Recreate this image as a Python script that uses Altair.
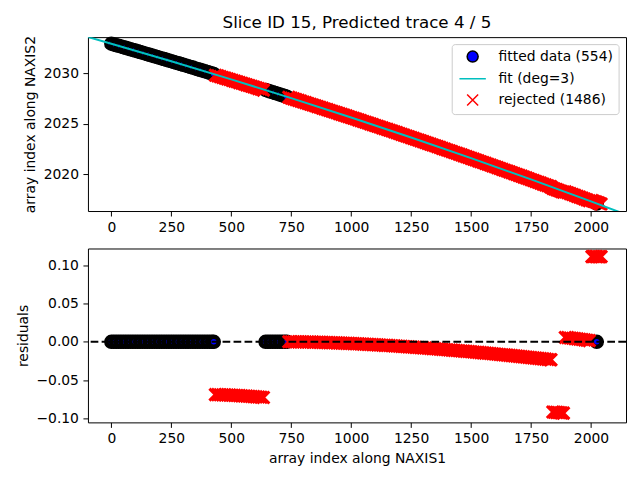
import altair as alt
import pandas as pd

# ---------------- data ----------------
LBL_FIT = "fitted data (554)"
LBL_LINE = "fit (deg=3)"
LBL_REJ = "rejected (1486)"
TITLE = "Slice ID 15, Predicted trace 4 / 5"

# fitted segment A (two interleaved samplings)
A2_x = [10, 30, 50, 70, 90, 110, 130, 150, 170, 190,
        210, 230, 250, 270, 290, 310, 330, 350, 370, 390, 410]
A2_y = [2032.83, 2032.70, 2032.56, 2032.42, 2032.29, 2032.15, 2032.01, 2031.87, 2031.73, 2031.59,
        2031.45, 2031.31, 2031.17, 2031.03, 2030.89, 2030.75, 2030.61, 2030.46, 2030.32, 2030.18, 2030.03]
A2_r = [0.0, 0.0, 0.0, 0.0, 0.0, 0.0, 0.0, 0.0, 0.0, 0.0,
        0.0, 0.0, 0.0, 0.0, 0.0, 0.0, 0.0, 0.0, 0.0, 0.0, 0.0]
A_x = [0, 20, 40, 60, 80, 100, 120, 140, 160, 180,
       200, 220, 240, 260, 280, 300, 320, 340, 360, 380,
       400, 420, 427]
A_y = [2032.90, 2032.76, 2032.63, 2032.49, 2032.35, 2032.22, 2032.08, 2031.94, 2031.80, 2031.66,
       2031.52, 2031.38, 2031.24, 2031.10, 2030.96, 2030.82, 2030.68, 2030.54, 2030.39, 2030.25,
       2030.11, 2029.96, 2029.91]
A_r = [0.0, 0.0, 0.0, 0.0, 0.0, 0.0, 0.0, 0.0, 0.0, 0.0,
       0.0, 0.0, 0.0, 0.0, 0.0, 0.0, 0.0, 0.0, 0.0, 0.0,
       0.0, 0.0, 0.0]

# rejected segment B (two interleaved samplings)
B_x = [434, 454, 474, 494, 514, 534, 554, 574, 594, 614, 634]
B_y = [2029.79, 2029.65, 2029.50, 2029.36, 2029.21, 2029.06, 2028.92, 2028.77, 2028.62, 2028.47, 2028.32]
B_r = [-0.0688, -0.0690, -0.0692, -0.0695, -0.0698, -0.0702, -0.0706, -0.0710, -0.0714, -0.0720, -0.0725]
B2_x = [444, 464, 484, 504, 524, 544, 564, 584, 604, 624]
B2_y = [2029.72, 2029.57, 2029.43, 2029.28, 2029.14, 2028.99, 2028.84, 2028.70, 2028.55, 2028.40]
B2_r = [-0.0689, -0.0691, -0.0693, -0.0696, -0.0700, -0.0704, -0.0708, -0.0712, -0.0717, -0.0722]

# fitted segment C (two interleaved samplings)
C2_x = [653, 673, 693, 713]
C2_y = [2028.26, 2028.11, 2027.96, 2027.81]
C2_r = [0.0, 0.0, 0.0, 0.0]
C_x = [643, 663, 683, 703, 723, 732]
C_y = [2028.33, 2028.18, 2028.03, 2027.88, 2027.73, 2027.67]
C_r = [0.0, 0.0, 0.0, 0.0, 0.0, 0.0]

# rejected segment D (two interleaved samplings)
D_x = [740, 760, 780, 800, 820, 840, 860, 880, 900, 920,
       940, 960, 980, 1000, 1020, 1040, 1060, 1080, 1100, 1120,
       1140, 1160, 1180, 1200, 1220, 1240, 1260, 1280, 1300, 1320,
       1340, 1360, 1380, 1400, 1420, 1440, 1460, 1480, 1500, 1520,
       1540, 1560, 1580, 1600, 1620, 1640, 1660, 1680, 1700, 1720,
       1740, 1760, 1780, 1800, 1820, 1833]
D_y = [2027.61, 2027.45, 2027.30, 2027.15, 2027.00, 2026.85, 2026.69, 2026.54, 2026.39, 2026.23,
       2026.08, 2025.92, 2025.77, 2025.61, 2025.46, 2025.30, 2025.14, 2024.99, 2024.83, 2024.67,
       2024.51, 2024.35, 2024.19, 2024.03, 2023.87, 2023.71, 2023.55, 2023.39, 2023.23, 2023.06,
       2022.90, 2022.74, 2022.57, 2022.41, 2022.25, 2022.08, 2021.92, 2021.75, 2021.58, 2021.42,
       2021.25, 2021.08, 2020.92, 2020.75, 2020.58, 2020.41, 2020.24, 2020.07, 2019.90, 2019.73,
       2019.56, 2019.39, 2019.22, 2019.04, 2018.87, 2018.76]
D_r = [0.0000, 0.0000, -0.0001, -0.0002, -0.0003, -0.0004, -0.0006, -0.0008, -0.0010, -0.0012,
       -0.0014, -0.0017, -0.0020, -0.0022, -0.0025, -0.0028, -0.0032, -0.0035, -0.0038, -0.0042,
       -0.0046, -0.0049, -0.0053, -0.0057, -0.0062, -0.0066, -0.0070, -0.0075, -0.0079, -0.0084,
       -0.0089, -0.0093, -0.0098, -0.0103, -0.0109, -0.0114, -0.0119, -0.0125, -0.0130, -0.0136,
       -0.0141, -0.0147, -0.0153, -0.0159, -0.0165, -0.0171, -0.0177, -0.0183, -0.0190, -0.0196,
       -0.0203, -0.0209, -0.0216, -0.0223, -0.0230, -0.0234]
D2_x = [750, 770, 790, 810, 830, 850, 870, 890, 910, 930,
        950, 970, 990, 1010, 1030, 1050, 1070, 1090, 1110, 1130,
        1150, 1170, 1190, 1210, 1230, 1250, 1270, 1290, 1310, 1330,
        1350, 1370, 1390, 1410, 1430, 1450, 1470, 1490, 1510, 1530,
        1550, 1570, 1590, 1610, 1630, 1650, 1670, 1690, 1710, 1730,
        1750, 1770, 1790, 1810, 1830]
D2_y = [2027.53, 2027.38, 2027.23, 2027.08, 2026.92, 2026.77, 2026.62, 2026.46, 2026.31, 2026.16,
        2026.00, 2025.85, 2025.69, 2025.54, 2025.38, 2025.22, 2025.07, 2024.91, 2024.75, 2024.59,
        2024.44, 2024.28, 2024.12, 2023.95, 2023.79, 2023.63, 2023.47, 2023.31, 2023.15, 2022.98,
        2022.82, 2022.66, 2022.49, 2022.33, 2022.16, 2022.00, 2021.83, 2021.67, 2021.50, 2021.33,
        2021.17, 2021.00, 2020.83, 2020.66, 2020.49, 2020.33, 2020.16, 2019.99, 2019.82, 2019.65,
        2019.47, 2019.30, 2019.13, 2018.96, 2018.79]
D2_r = [0.0000, -0.0001, -0.0001, -0.0002, -0.0003, -0.0005, -0.0007, -0.0009, -0.0011, -0.0013,
        -0.0015, -0.0018, -0.0021, -0.0023, -0.0026, -0.0030, -0.0033, -0.0036, -0.0040, -0.0044,
        -0.0047, -0.0051, -0.0055, -0.0060, -0.0064, -0.0068, -0.0072, -0.0077, -0.0081, -0.0086,
        -0.0091, -0.0095, -0.0100, -0.0106, -0.0111, -0.0116, -0.0122, -0.0127, -0.0133, -0.0138,
        -0.0144, -0.0150, -0.0156, -0.0162, -0.0168, -0.0174, -0.0180, -0.0186, -0.0193, -0.0199,
        -0.0206, -0.0212, -0.0219, -0.0226, -0.0233]

# rejected segment E
E_x = [1841, 1848, 1856, 1863, 1871, 1878, 1885]
E_y = [2018.62, 2018.56, 2018.49, 2018.43, 2018.36, 2018.30, 2018.24]
E_r = [-0.0915, -0.0918, -0.0920, -0.0922, -0.0925, -0.0928, -0.0930]

# rejected segment F
F_x = [1893, 1903, 1913, 1923, 1933, 1943, 1953, 1963, 1973, 1983, 1993]
F_y = [2018.27, 2018.18, 2018.10, 2018.01, 2017.92, 2017.83, 2017.75, 2017.66, 2017.57, 2017.48, 2017.39]
F_r = [0.0057, 0.0054, 0.0050, 0.0046, 0.0042, 0.0038, 0.0034, 0.0030, 0.0025, 0.0020, 0.0015]

# rejected segment G
G_x = [2004, 2010, 2017, 2023, 2030, 2036, 2042]
G_y = [2017.41, 2017.35, 2017.29, 2017.24, 2017.18, 2017.12, 2017.07]
G_r = [0.1110, 0.1111, 0.1112, 0.1110, 0.1108, 0.1109, 0.1110]

# fitted point H
H_x = [2024]
H_y = [2017.12]
H_r = [0.0]

# fit curve
FIT_X = [-100, 0, 250, 500, 750, 1000, 1250, 1500, 1750, 2000, 2150]
FIT_Y = [2033.58, 2032.90, 2031.17, 2029.38, 2027.53, 2025.62, 2023.64, 2021.60, 2019.50, 2017.33, 2016.00]

X_TICKS = [0, 250, 500, 750, 1000, 1250, 1500, 1750, 2000]
Y_TICKS_TOP = [2020, 2025, 2030]
Y_TICKS_BOT = [-0.10, -0.05, 0.00, 0.05, 0.10]
ZERO = [0.0]

# ---------------- build tables ----------------
def seg(xs, ys, rs, kind):
    return pd.DataFrame({"x": xs, "y": ys, "r": rs, "kind": kind})

fitted = pd.concat([seg(A2_x, A2_y, A2_r, LBL_FIT), seg(A_x, A_y, A_r, LBL_FIT),
                    seg(C2_x, C2_y, C2_r, LBL_FIT), seg(C_x, C_y, C_r, LBL_FIT),
                    seg(H_x, H_y, H_r, LBL_FIT)], ignore_index=True)
rejected = pd.concat([seg(B_x, B_y, B_r, LBL_REJ), seg(B2_x, B2_y, B2_r, LBL_REJ),
                      seg(D_x, D_y, D_r, LBL_REJ), seg(D2_x, D2_y, D2_r, LBL_REJ),
                      seg(E_x, E_y, E_r, LBL_REJ), seg(F_x, F_y, F_r, LBL_REJ),
                      seg(G_x, G_y, G_r, LBL_REJ)], ignore_index=True)
fitline = pd.DataFrame({"x": FIT_X, "y": FIT_Y, "kind": LBL_LINE})
zero_df = pd.DataFrame({"r": ZERO})

XPATH = "M-1,-1L1,1M-1,1L1,-1"
DOM = [LBL_FIT, LBL_LINE, LBL_REJ]
fill_s = alt.Scale(domain=DOM, range=["#0000ff", "transparent", "transparent"])
stroke_s = alt.Scale(domain=DOM, range=["#000000", "#00bfbf", "#ff0000"])
shape_s = alt.Scale(domain=DOM, range=["circle", "M-2.4,0L2.4,0", XPATH])

leg = alt.Legend(title=None, orient="top-right", offset=7, padding=5.5,
                 symbolOffset=8.5, labelOffset=19, rowPadding=5.2,
                 fillColor="rgba(255,255,255,0.8)", strokeColor="#cccccc",
                 cornerRadius=3, symbolSize=121, symbolStrokeWidth=1.5,
                 labelFontSize=13.9, labelFont="DejaVu Sans", labelColor="black")

xs = alt.Scale(domain=[-97.5, 2146], nice=False, zero=False)
ys_top = alt.Scale(domain=[2016.38, 2033.55], nice=False, zero=False)
ys_bot = alt.Scale(domain=[-0.105, 0.1216], nice=False, zero=False)

W, H = 538.4, 174
X_SIZE, X_SW = 144, 3.0
C_SIZE, C_SW = 100, 4.5

top_x = alt.X("x:Q", scale=xs, axis=alt.Axis(values=X_TICKS, title=None, format="d"))
top_y = alt.Y("y:Q", scale=ys_top,
              axis=alt.Axis(values=Y_TICKS_TOP, title="array index along NAXIS2", format="d"))

enc_leg = dict(
    fill=alt.Fill("kind:N", scale=fill_s, legend=leg),
    stroke=alt.Stroke("kind:N", scale=stroke_s, legend=leg),
)

top_fit_pts = alt.Chart(fitted).mark_point(size=C_SIZE, strokeWidth=C_SW, opacity=1).encode(
    x=top_x, y=top_y, shape=alt.Shape("kind:N", scale=shape_s, legend=leg), **enc_leg)
top_rej_pts = alt.Chart(rejected).mark_point(size=X_SIZE, strokeWidth=X_SW, opacity=1).encode(
    x=top_x, y=top_y, shape=alt.Shape("kind:N", scale=shape_s, legend=leg), **enc_leg)
top_line = alt.Chart(fitline).mark_line(strokeWidth=2, clip=True).encode(
    x=top_x, y=top_y, stroke=alt.Stroke("kind:N", scale=stroke_s, legend=leg))

top = alt.layer(top_fit_pts, top_rej_pts, top_line).properties(
    width=W, height=H,
    title=alt.TitleParams(TITLE, fontSize=16.7, font="DejaVu Sans", fontWeight="normal",
                          anchor="middle", frame="group", offset=-2, color="black"))

bot_x = alt.X("x:Q", scale=xs, axis=alt.Axis(values=X_TICKS, title="array index along NAXIS1", format="d"))
bot_y = alt.Y("r:Q", scale=ys_bot, axis=alt.Axis(values=Y_TICKS_BOT, title="residuals", format=".2f"))

bot_fit_pts = alt.Chart(fitted).mark_point(shape="circle", size=C_SIZE, strokeWidth=C_SW, opacity=1,
                                          filled=True, fill="#0000ff", stroke="#000000").encode(
    x=bot_x, y=bot_y)
bot_rej_pts = alt.Chart(rejected).mark_point(shape=XPATH, size=X_SIZE, strokeWidth=X_SW, opacity=1,
                                            fill="transparent", stroke="#ff0000").encode(
    x=bot_x, y=bot_y)
bot_rule = alt.Chart(zero_df).mark_rule(strokeDash=[7.7, 3.3], strokeWidth=2, color="#000000").encode(
    y=alt.Y("r:Q", scale=ys_bot))

bottom = alt.layer(bot_fit_pts, bot_rej_pts, bot_rule).properties(width=W, height=H)

chart = alt.vconcat(top, bottom, spacing=8.5).resolve_scale(
    fill="independent", stroke="independent", shape="independent"
).resolve_legend(
    fill="independent", stroke="independent", shape="independent"
).properties(
    padding={"left": 7, "top": 6, "right": 4, "bottom": 4}
).configure_view(
    stroke="black", strokeWidth=1
).configure_axis(
    labelFont="DejaVu Sans", labelFontSize=13.9, labelColor="black",
    titleFont="DejaVu Sans", titleFontSize=13.9, titleFontWeight="normal", titleColor="black",
    tickColor="black", tickSize=5, tickWidth=1, labelPadding=4.5, titlePadding=5.6,
    domain=False, grid=False, labelOverlap=False, labelFlush=False
)

chart.save("out.html", embed_options={"renderer": "svg", "actions": False})
